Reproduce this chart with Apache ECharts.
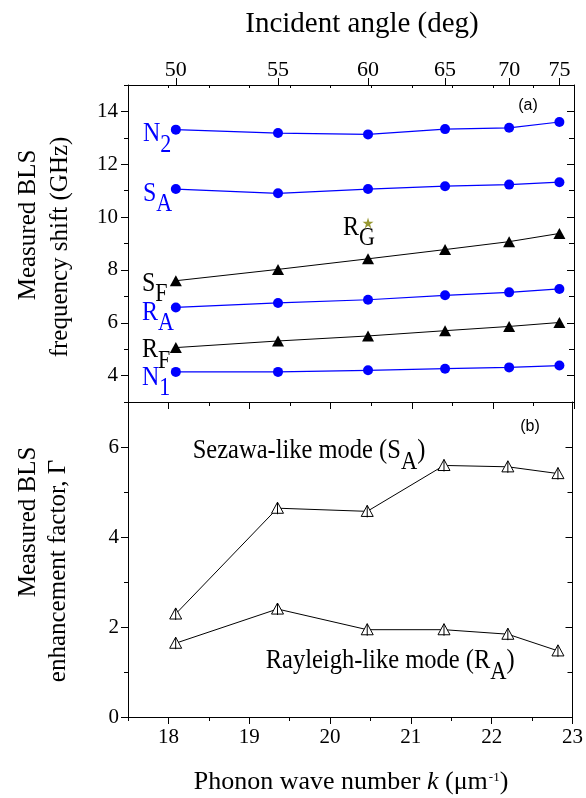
<!DOCTYPE html>
<html><head><meta charset="utf-8">
<script src="https://cdn.jsdelivr.net/npm/echarts@6/dist/echarts.min.js"></script>
<style>html,body{margin:0;padding:0;background:#fff}#c{width:586px;height:798px}</style>
</head><body><div id="c"></div>
<script>
// ---- data ----
const kValues = [18.09, 19.35, 20.46, 21.41, 22.20, 22.82];
const angleLabels = ['50', '55', '60', '65', '70', '75'];
const angleTickK = [18.09, 19.35, 20.46, 21.41, 22.20, 22.82];
const kTicks = [18, 19, 20, 21, 22, 23];
const freqTicks = [4, 6, 8, 10, 12, 14];
const gammaTicks = [0, 2, 4, 6];
const N2 = [13.31, 13.18, 13.13, 13.33, 13.38, 13.60];
const SA = [11.06, 10.90, 11.06, 11.17, 11.23, 11.32];
const SF = [7.59, 8.02, 8.42, 8.77, 9.07, 9.38];
const RA = [6.58, 6.75, 6.87, 7.04, 7.15, 7.28];
const RF = [5.06, 5.31, 5.50, 5.70, 5.86, 6.01];
const N1 = [4.14, 4.14, 4.20, 4.26, 4.31, 4.38];
const RG = [[20.46, 9.78]];
const gammaSA = [2.29, 4.64, 4.57, 5.59, 5.56, 5.41];
const gammaRA = [1.64, 2.40, 1.94, 1.94, 1.84, 1.47];

// ---- styles ----
const SERIF = '"Liberation Serif", "Times New Roman", serif';
const SANS = '"Liberation Sans", Arial, sans-serif';
const BLUE = '#0000ff';
const BL = {color: '#000', width: 1};
const SY = 1.12;

function pairs(ys) { return kValues.map((k, i) => [k, ys[i]]); }

function xAx(grid, pos, o) {
  return Object.assign({
    gridIndex: grid, type: 'value', position: pos, min: 17.5, max: 23,
    axisLine: {show: false, onZero: false, lineStyle: BL},
    axisTick: {show: false}, axisLabel: {show: false}, splitLine: {show: false}
  }, o);
}
function yAx(grid, pos, min, max, o) {
  return Object.assign({
    gridIndex: grid, type: 'value', position: pos, min: min, max: max,
    axisLine: {show: false, onZero: false, lineStyle: BL},
    axisTick: {show: false}, axisLabel: {show: false}, splitLine: {show: false}
  }, o);
}
const lineOn = {show: true, onZero: false, lineStyle: BL};
const labFont = {fontFamily: SERIF, fontSize: 21, color: '#000'};

const xAxes = [
  xAx(0, 'bottom', {interval: 0.5, axisLine: lineOn, axisTick: {show: true, length: 4, lineStyle: BL}}),
  xAx(0, 'bottom', {axisTick: {show: true, length: 7, customValues: kTicks, lineStyle: BL}}),
  xAx(0, 'top', {interval: 0.5, axisLine: lineOn, axisTick: {show: true, inside: true, length: 3, lineStyle: BL}}),
  xAx(0, 'top', {
    axisTick: {show: true, length: 7, customValues: angleTickK, lineStyle: BL},
    axisLabel: Object.assign({show: true, margin: 4, fontSize: 22, customValues: angleTickK,
      formatter: function (v) {
        let idx = 0, best = 1e9;
        angleTickK.forEach((k, i) => { if (Math.abs(k - v) < best) { best = Math.abs(k - v); idx = i; } });
        return angleLabels[idx];
      }}, {fontFamily: SERIF, color: '#000'})
  }),
  xAx(1, 'bottom', {interval: 0.5, axisLine: lineOn, axisTick: {show: true, length: 4, lineStyle: BL}}),
  xAx(1, 'bottom', {
    axisTick: {show: true, length: 7, customValues: kTicks, lineStyle: BL},
    axisLabel: Object.assign({show: true, margin: 10, customValues: kTicks}, labFont)
  })
];
const yAxes = [
  yAx(0, 'left', 3, 15, {interval: 1, axisLine: lineOn, axisTick: {show: true, length: 4, lineStyle: BL}}),
  yAx(0, 'left', 3, 15, {axisTick: {show: true, length: 7, customValues: freqTicks, lineStyle: BL},
    axisLabel: Object.assign({show: true, margin: 10, customValues: freqTicks}, labFont)}),
  yAx(0, 'right', 3, 15, {interval: 1, axisLine: lineOn, axisTick: {show: true, inside: true, length: 5, lineStyle: BL}}),
  yAx(0, 'right', 3, 15, {axisTick: {show: true, inside: true, length: 7, customValues: freqTicks, lineStyle: BL}}),
  yAx(1, 'left', 0, 7, {interval: 1, axisLine: lineOn, axisTick: {show: true, length: 4, lineStyle: BL}}),
  yAx(1, 'left', 0, 7, {axisTick: {show: true, length: 7, customValues: gammaTicks, lineStyle: BL},
    axisLabel: Object.assign({show: true, margin: 9, customValues: gammaTicks}, labFont)}),
  yAx(1, 'right', 0, 7, {interval: 1, axisLine: lineOn, axisTick: {show: true, inside: true, length: 5, lineStyle: BL}}),
  yAx(1, 'right', 0, 7, {axisTick: {show: true, inside: true, length: 7, customValues: gammaTicks, lineStyle: BL}})
];

function blueSeries(name, ys) {
  return {name: name, type: 'line', xAxisIndex: 0, yAxisIndex: 0, data: pairs(ys),
    symbol: 'circle', symbolSize: 10, showSymbol: true,
    itemStyle: {color: BLUE}, lineStyle: {color: BLUE, width: 1.2}, z: 3};
}
function blackSeries(name, ys) {
  return {name: name, type: 'line', xAxisIndex: 0, yAxisIndex: 0, data: pairs(ys),
    symbol: 'triangle', symbolSize: [12, 11], showSymbol: true,
    itemStyle: {color: '#000'}, lineStyle: {color: '#000', width: 1}, z: 3};
}
const openTri = 'path://M0,12 L6.5,0 L13,12 Z M6.5,0 L6.5,13';
function openSeries(name, ys) {
  return {name: name, type: 'line', xAxisIndex: 4, yAxisIndex: 4, data: pairs(ys),
    symbol: openTri, symbolSize: [12, 12], showSymbol: true,
    itemStyle: {color: '#fff', borderColor: '#000', borderWidth: 1},
    lineStyle: {color: '#000', width: 1}, z: 3};
}
const starPath = 'path://M50,0 L61,35 L98,35 L68,57 L79,91 L50,70 L21,91 L32,57 L2,35 L39,35 Z';

function subLabel(left, cy, main, sub, color, tail, fs) {
  fs = fs || 24;
  let txt = '{m|' + main + '}{s|' + sub + '}' + (tail ? '{m|' + tail + '}' : '');
  return {type: 'text', x: left, y: cy - (fs / 2) * SY, scaleY: SY, z: 100,
    style: {text: txt, align: 'left', verticalAlign: 'top',
      rich: {
        m: {fontSize: fs, fontFamily: SERIF, fill: color, verticalAlign: 'top'},
        s: {fontSize: fs - 2, fontFamily: SERIF, fill: color, verticalAlign: 'top', padding: [11, 0, 0, 0]}
      }}};
}
function plainText(x, y, text, fs, family, opts) {
  return Object.assign({type: 'text', x: x, y: y, z: 100,
    style: {text: text, fontSize: fs, fontFamily: family, fill: '#000', align: 'center', verticalAlign: 'middle'}}, opts || {});
}

const graphics = [
  plainText(362, 24, 'Incident angle (deg)', 29, SERIF),
  plainText(28, 225, 'Measured BLS', 25, SERIF, {rotation: Math.PI / 2}),
  plainText(60, 247, 'frequency shift (GHz)', 25, SERIF, {rotation: Math.PI / 2}),
  plainText(28, 522, 'Measured BLS', 25, SERIF, {rotation: Math.PI / 2}),
  plainText(58, 571, 'enhancement factor, \u0393', 25, SERIF, {rotation: Math.PI / 2}),
  {type: 'text', x: 351, y: 781.7 - 13, z: 100,
    style: {text: '{n|Phonon wave number }{i|k}{n| (\u03bcm}{p|-1}{n|)}', align: 'center', verticalAlign: 'top',
      rich: {
        n: {fontSize: 26, fontFamily: SERIF, fill: '#000', verticalAlign: 'top'},
        i: {fontSize: 26, fontFamily: SERIF, fontStyle: 'italic', fill: '#000', verticalAlign: 'top'},
        p: {fontSize: 13, fontFamily: SERIF, fill: '#000', verticalAlign: 'top', padding: [2, 0, 0, 1]}
      }}},
  plainText(528, 106, '(a)', 16, SANS),
  plainText(530, 427, '(b)', 16, SANS),
  subLabel(143, 134, 'N', '2', BLUE),
  subLabel(143, 193.5, 'S', 'A', BLUE),
  subLabel(142, 283.5, 'S', 'F', '#000'),
  subLabel(142, 312.5, 'R', 'A', BLUE),
  subLabel(142, 350, 'R', 'F', '#000'),
  subLabel(142, 377.5, 'N', '1', BLUE),
  subLabel(343, 227.5, 'R', 'G', '#000'),
  subLabel(192.7, 451, 'Sezawa-like mode (S', 'A', '#000', ')', 24.5),
  subLabel(265.7, 661, 'Rayleigh-like mode (R', 'A', '#000', ')', 24.5)
];

const chart = echarts.init(document.getElementById('c'), null, {renderer: 'canvas'});
chart.setOption({
  animation: false,
  backgroundColor: '#fff',
  grid: [
    {left: 128, top: 85, width: 446, height: 317},
    {left: 128, top: 402, width: 446, height: 315}
  ],
  xAxis: xAxes,
  yAxis: yAxes,
  series: [
    blueSeries('N2', N2),
    blueSeries('SA', SA),
    blackSeries('SF', SF),
    blueSeries('RA', RA),
    blackSeries('RF', RF),
    blueSeries('N1', N1),
    {name: 'RG', type: 'scatter', xAxisIndex: 0, yAxisIndex: 0, data: RG,
      symbol: starPath, symbolSize: 11, itemStyle: {color: '#808000'}, z: 4},
    openSeries('Sezawa', gammaSA),
    openSeries('Rayleigh', gammaRA)
  ],
  graphic: graphics
});
</script>
</body></html>
